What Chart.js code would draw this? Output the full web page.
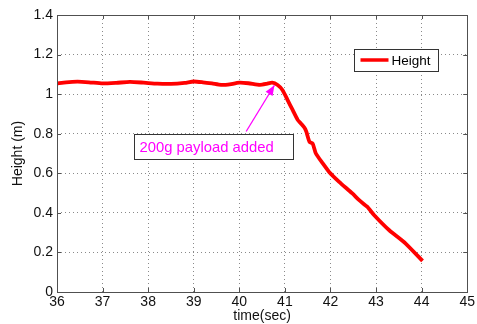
<!DOCTYPE html>
<html>
<head>
<meta charset="utf-8">
<script src="https://cdn.jsdelivr.net/npm/chart.js@4.4.0/dist/chart.umd.min.js"></script>
<style>
	html, body { margin: 0; padding: 0; background: #fff; }
	#wrap { width: 477px; height: 324px; }
</style>
</head>
<body>
<div id="wrap"><canvas id="myChart" width="477" height="324"></canvas></div>
<script>
//height log around the moment the payload is dropped on
const timeSec = [36.0, 36.2, 36.45, 36.7, 37.0, 37.3, 37.6, 37.9, 38.2, 38.5, 38.8, 39.0, 39.2, 39.4, 39.6, 39.75,
	40.0, 40.2, 40.45, 40.6, 40.72, 40.84, 40.95, 41.06, 41.17, 41.28, 41.35, 41.43, 41.47, 41.54, 41.61,
	41.68, 41.83, 41.97, 42.19, 42.48, 42.63, 42.81, 42.96, 43.29, 43.65, 44.02];
const heightM = [1.054, 1.060, 1.063, 1.060, 1.054, 1.057, 1.062, 1.058, 1.053, 1.052, 1.057, 1.064, 1.060, 1.054, 1.047, 1.048,
	1.058, 1.055, 1.047, 1.052, 1.058, 1.046, 1.020, 0.970, 0.920, 0.870, 0.852, 0.830, 0.810, 0.759, 0.750,
	0.700, 0.650, 0.607, 0.557, 0.498, 0.464, 0.430, 0.388, 0.312, 0.245, 0.157];
const xTicks = [36, 37, 38, 39, 40, 41, 42, 43, 44, 45];
const yTicks = [0, 0.2, 0.4, 0.6, 0.8, 1, 1.2, 1.4];
const noteText = "200g payload added";

const FONT = "'Liberation Sans', Arial, sans-serif";

//box round the plot, inward ticks, legend and the note with its arrow
const matlabFrame = {
	id: 'matlabFrame',
	afterDatasetsDraw(chart) {
		const ctx = chart.ctx;
		const a = chart.chartArea;
		const x = chart.scales.x, y = chart.scales.y;
		ctx.save();

		//frame
		ctx.strokeStyle = '#505050';
		ctx.lineWidth = 1;
		ctx.strokeRect(Math.round(a.left) + 0.5, Math.round(a.top) + 0.5,
			Math.round(a.right - a.left), Math.round(a.bottom - a.top));

		//ticks pointing into the plot on all four sides
		ctx.beginPath();
		xTicks.forEach(function(v) {
			const px = Math.round(x.getPixelForValue(v)) + 0.5;
			ctx.moveTo(px, a.bottom); ctx.lineTo(px, a.bottom - 4);
			ctx.moveTo(px, a.top); ctx.lineTo(px, a.top + 4);
		});
		yTicks.forEach(function(v) {
			const py = Math.round(y.getPixelForValue(v)) + 0.5;
			ctx.moveTo(a.left, py); ctx.lineTo(a.left + 4, py);
			ctx.moveTo(a.right, py); ctx.lineTo(a.right - 4, py);
		});
		ctx.stroke();

		//legend
		const ds = chart.data.datasets[0];
		const lx = 354.5, ly = 49.5, lw = 84, lh = 22;
		ctx.fillStyle = '#fff';
		ctx.fillRect(lx, ly, lw, lh);
		ctx.strokeStyle = '#333';
		ctx.strokeRect(lx, ly, lw, lh);
		ctx.strokeStyle = ds.borderColor;
		ctx.lineWidth = 3.5;
		ctx.beginPath();
		ctx.moveTo(lx + 6, ly + 10.5); ctx.lineTo(lx + 34, ly + 10.5);
		ctx.stroke();
		ctx.fillStyle = '#000';
		ctx.font = '13.5px ' + FONT;
		ctx.textBaseline = 'middle';
		ctx.fillText(ds.label, lx + 37, ly + 11.5);

		//note box
		const bx = Math.round(x.getPixelForValue(37.69)) + 0.5;
		const by = Math.round(y.getPixelForValue(0.80)) + 0.5;
		const bw = 159, bh = 25;
		ctx.lineWidth = 1;
		ctx.fillStyle = '#fff';
		ctx.fillRect(bx, by, bw, bh);
		ctx.strokeStyle = '#333';
		ctx.strokeRect(bx, by, bw, bh);
		ctx.fillStyle = '#ff00ff';
		ctx.font = '14.8px ' + FONT;
		ctx.fillText(noteText, bx + 5, by + 13);

		//arrow to the point where the drop starts
		const tx = x.getPixelForValue(40.77), ty = y.getPixelForValue(1.045);
		const sx = x.getPixelForValue(40.15), sy = by - 3;
		const ang = Math.atan2(ty - sy, tx - sx);
		ctx.strokeStyle = '#ff00ff';
		ctx.lineWidth = 1.3;
		ctx.beginPath();
		ctx.moveTo(sx, sy); ctx.lineTo(tx, ty);
		ctx.stroke();
		ctx.beginPath();
		ctx.moveTo(tx, ty);
		ctx.lineTo(tx - 11 * Math.cos(ang - 0.38), ty - 11 * Math.sin(ang - 0.38));
		ctx.lineTo(tx - 11 * Math.cos(ang + 0.38), ty - 11 * Math.sin(ang + 0.38));
		ctx.closePath();
		ctx.fillStyle = '#ff00ff';
		ctx.fill();

		ctx.restore();
	}
};

var ctx = document.getElementById("myChart").getContext('2d');
var myChart = new Chart(ctx, {
	type: 'line',
	data: {
		datasets: [{
			label: "Height",
			data: timeSec.map(function(t, i) { return {x: t, y: heightM[i]}; }),
			borderColor: "#ff0000",
			borderWidth: 3.8,
			pointRadius: 0,
			tension: 0.2,
			fill: false
		}]
	},
	options: {
		responsive: false,
		animation: false,
		layout: { padding: { top: 15, right: 9, left: 0, bottom: 0 } },
		plugins: {
			legend: { display: false },
			tooltip: { enabled: false }
		},
		scales: {
			x: {
				type: 'linear',
				min: 36,
				max: 45,
				afterBuildTicks: function(scale) {
					scale.ticks = xTicks.map(function(v) { return {value: v}; });
				},
				afterFit: function(scale) { scale.height = 32; },
				ticks: {
					color: '#111',
					font: { family: FONT, size: 14 },
					padding: 2,
					maxRotation: 0,
					callback: function(v) { return String(v); }
				},
				grid: { color: '#8a8a8a', drawTicks: false },
				border: { display: false, dash: [1, 3] },
				title: {
					display: true,
					text: 'time(sec)',
					color: '#111',
					font: { family: FONT, size: 14 },
					padding: { top: 0, bottom: -1 }
				}
			},
			y: {
				type: 'linear',
				min: 0,
				max: 1.4,
				afterBuildTicks: function(scale) {
					scale.ticks = yTicks.map(function(v) { return {value: v}; });
				},
				afterFit: function(scale) { scale.width = 57; },
				ticks: {
					color: '#111',
					font: { family: FONT, size: 14 },
					padding: 4,
					callback: function(v) { return String(Math.round(v * 10) / 10); }
				},
				grid: { color: '#8a8a8a', drawTicks: false },
				border: { display: false, dash: [1, 3] },
				title: {
					display: true,
					text: 'Height (m)',
					color: '#111',
					font: { family: FONT, size: 14 },
					padding: { top: 10, bottom: 0 }
				}
			}
		}
	},
	plugins: [matlabFrame]
});
</script>
</body>
</html>
